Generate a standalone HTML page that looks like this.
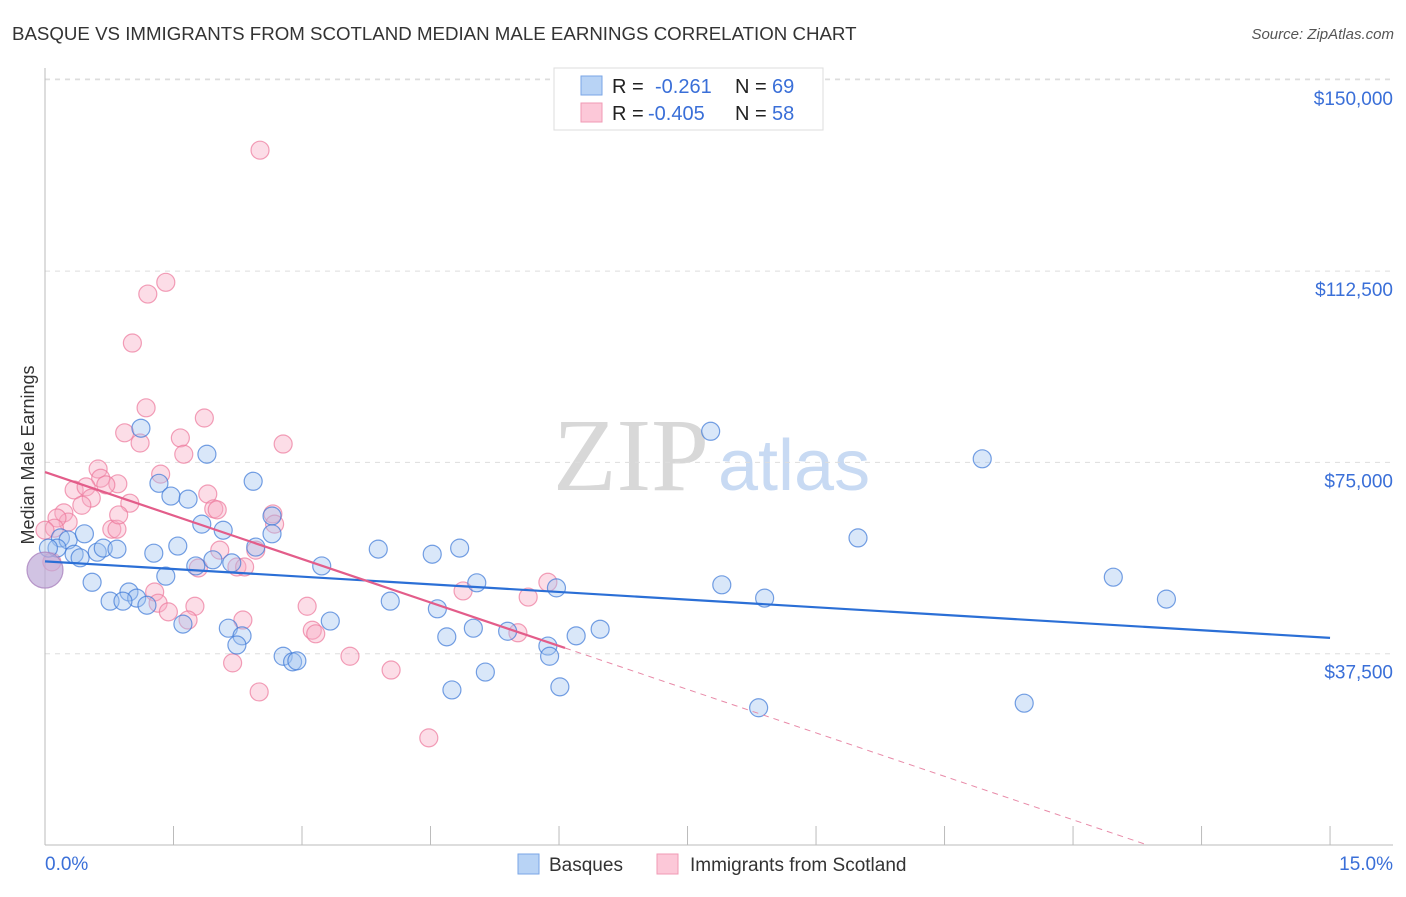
<!DOCTYPE html>
<html><head><meta charset="utf-8"><style>
body{margin:0;background:#fff;font-family:"Liberation Sans",sans-serif;}
</style></head><body>
<svg id="c" width="1406" height="892" font-family="Liberation Sans, sans-serif" xmlns="http://www.w3.org/2000/svg">
<text x="12" y="40" font-size="18.7" fill="#333">BASQUE VS IMMIGRANTS FROM SCOTLAND MEDIAN MALE EARNINGS CORRELATION CHART</text>
<text x="1394" y="39" font-size="15" fill="#555" font-style="italic" text-anchor="end">Source: ZipAtlas.com</text>
<text transform="translate(34,455) rotate(-90)" font-size="18" fill="#333" text-anchor="middle">Median Male Earnings</text>
<text x="553" y="490" font-size="104" fill="#d8d8d8" style="font-family:'Liberation Serif',serif">ZIP</text>
<text x="718" y="490" font-size="72" fill="#c8daf3">atlas</text>
<g id="grid"></g><g id="axes"></g><g id="pts"></g><g id="trend"></g>
<g>
<rect x="554" y="68" width="269" height="62" fill="#fff" stroke="#ddd"/>
<rect x="581" y="76" width="21" height="19" fill="#b8d3f5" stroke="#7aa6e6"/>
<rect x="581" y="103" width="21" height="19" fill="#fcc8d8" stroke="#f09ab4"/>
<text x="612" y="93" font-size="20" fill="#222">R = </text><text x="655" y="93" font-size="20" fill="#3a6fd8">-0.261</text>
<text x="735" y="93" font-size="20" fill="#222">N = </text><text x="772" y="93" font-size="20" fill="#3a6fd8">69</text>
<text x="612" y="120" font-size="20" fill="#222">R = </text><text x="648" y="120" font-size="20" fill="#3a6fd8">-0.405</text>
<text x="735" y="120" font-size="20" fill="#222">N = </text><text x="772" y="120" font-size="20" fill="#3a6fd8">58</text>
</g>
<g>
<rect x="518" y="854" width="21" height="20" fill="#b8d3f5" stroke="#7aa6e6"/>
<text x="549" y="871" font-size="19" fill="#333">Basques</text>
<rect x="657" y="854" width="21" height="20" fill="#fcc8d8" stroke="#f09ab4"/>
<text x="690" y="871" font-size="19" fill="#333">Immigrants from Scotland</text>
</g>
</svg>
<script>
const yTicks=[37500,75000,112500,150000];
const yTickLabels=["$37,500","$75,000","$112,500","$150,000"];
const xTickLabels=["0.0%","15.0%"];
const basqueX=[1.12,1.89,1.33,1.47,1.67,2.43,1.83,2.08,2.65,2.65,1.55,1.27,0.18,0.27,0.14,0.46,0.34,0.41,0.61,0.68,0.84,1.41,0.55,0.98,1.07,0.76,0.91,1.19,1.61,1.76,1.96,2.18,2.46,2.14,2.30,2.24,2.78,2.89,2.94,3.33,3.23,3.89,4.03,4.52,4.58,4.69,4.84,5.04,5.00,5.40,5.87,5.89,5.97,6.20,6.48,4.75,5.14,6.01,7.77,7.90,8.40,8.33,9.49,10.94,12.47,13.09,11.43,0.04,0.0];
const basqueY=[81.7,76.6,70.9,68.4,67.8,71.3,62.9,61.7,64.5,61.0,58.6,57.2,60.2,59.8,58.2,61.0,57.0,56.3,57.4,58.2,58.0,52.7,51.5,49.6,48.4,47.8,47.8,47.0,43.3,54.7,55.9,55.3,58.4,42.5,41.0,39.2,37.0,35.9,36.1,43.9,54.7,58.0,47.8,57.0,46.3,40.8,58.2,51.4,42.5,41.9,39.0,37.0,50.4,41.0,42.3,30.4,33.9,31.0,81.1,51.0,48.4,26.9,60.2,75.7,52.5,48.2,27.8,58.2,53.9];
const scotX=[2.51,1.41,1.20,1.02,1.18,1.86,0.93,1.11,1.58,1.62,0.62,0.65,1.35,0.85,0.71,0.34,0.48,0.54,0.99,1.90,1.97,2.01,2.78,2.66,0.43,0.22,0.27,0.14,0.11,0.78,0.84,0.86,2.46,2.04,1.79,2.24,2.33,2.68,1.28,1.32,1.44,1.75,1.67,2.31,3.06,3.12,3.16,3.56,4.04,2.19,2.50,4.88,5.87,5.64,5.52,4.48,0.0,0.08];
const scotY=[136.2,110.3,108.0,98.4,85.7,83.7,80.8,78.8,79.8,76.6,73.7,71.9,72.7,70.8,70.6,69.6,70.2,68.0,67.0,68.8,65.9,65.7,78.6,64.9,66.6,65.1,63.3,64.1,62.1,61.9,61.9,64.7,57.8,57.8,54.3,54.5,54.5,62.9,49.6,47.4,45.7,46.8,44.1,44.1,46.8,42.1,41.4,37.0,34.3,35.7,30.0,49.8,51.5,48.6,41.6,21.0,61.7,55.5];
const basqueTrend=[55.6,-1.0];
const scotTrend=[73.1,-5.68];
const NS='http://www.w3.org/2000/svg';
const X=v=>45+v*85.67, Y=v=>845-v*191.3/37.5;
function mk(tag,attrs,parent){const e=document.createElementNS(NS,tag);for(const k in attrs)e.setAttribute(k,attrs[k]);document.getElementById(parent).appendChild(e);return e;}
yTicks.forEach((t,i)=>{const y=Y(t/1000);
 const g=mk('line',{x1:45,x2:1393,y1:y,y2:y,stroke:'#ddd','stroke-dasharray':'5,5'},'grid');
 
 
 const tx=mk('text',{x:1393,y:y+25,'font-size':19,fill:'#3a6fd8','text-anchor':'end'},'grid');tx.textContent=yTickLabels[i];
 
 
});
const topGrid=mk('line',{x1:45,x2:1393,y1:79,y2:79,stroke:'#ddd','stroke-dasharray':'5,5'},'grid');


const ax=mk('line',{x1:45,x2:1393,y1:845,y2:845,stroke:'#bbb'},'axes');


const ay=mk('line',{x1:45,x2:45,y1:68,y2:845,stroke:'#bbb'},'axes');


for(let i=1;i<=10;i++){const x=X(i*1.5);const t=mk('line',{x1:x,x2:x,y1:826,y2:845,stroke:'#bbb'},'axes');
 
 }
[0,15].forEach((v,i)=>{const t=mk('text',{x:i?1393:45,y:870,'font-size':19,fill:'#3a6fd8','text-anchor':i?'end':'start'},'axes');t.textContent=xTickLabels[i];
 
 });
scotX.forEach((x,i)=>{const c=mk('circle',{cx:X(x),cy:Y(scotY[i]),r:9,fill:'rgba(248,170,196,0.4)',stroke:'rgba(236,120,155,0.7)','stroke-width':1.2},'pts');
 
 });
basqueX.forEach((x,i)=>{const big=i===basqueX.length-1;const c=mk('circle',{cx:X(x),cy:Y(basqueY[i]),r:big?18:9,fill:big?'rgba(190,170,215,0.7)':'rgba(160,195,240,0.4)',stroke:big?'rgba(170,130,190,0.8)':'rgba(60,120,215,0.7)','stroke-width':1.2},'pts');
 
 });
const bl=mk('line',{x1:X(0),y1:Y(basqueTrend[0]),x2:X(15),y2:Y(basqueTrend[0]+basqueTrend[1]*15),stroke:'#2b6fd6','stroke-width':2.2},'trend');


const xs=6.07, xe=-scotTrend[0]/scotTrend[1];
const pl=mk('line',{x1:X(0),y1:Y(scotTrend[0]),x2:X(xs),y2:Y(scotTrend[0]+scotTrend[1]*xs),stroke:'#e35d8a','stroke-width':2.2},'trend');


const pd=mk('line',{x1:X(xs),y1:Y(scotTrend[0]+scotTrend[1]*xs),x2:X(xe),y2:Y(0),stroke:'#e88aa8','stroke-width':1,'stroke-dasharray':'6,5'},'trend');


</script>
</body></html>
